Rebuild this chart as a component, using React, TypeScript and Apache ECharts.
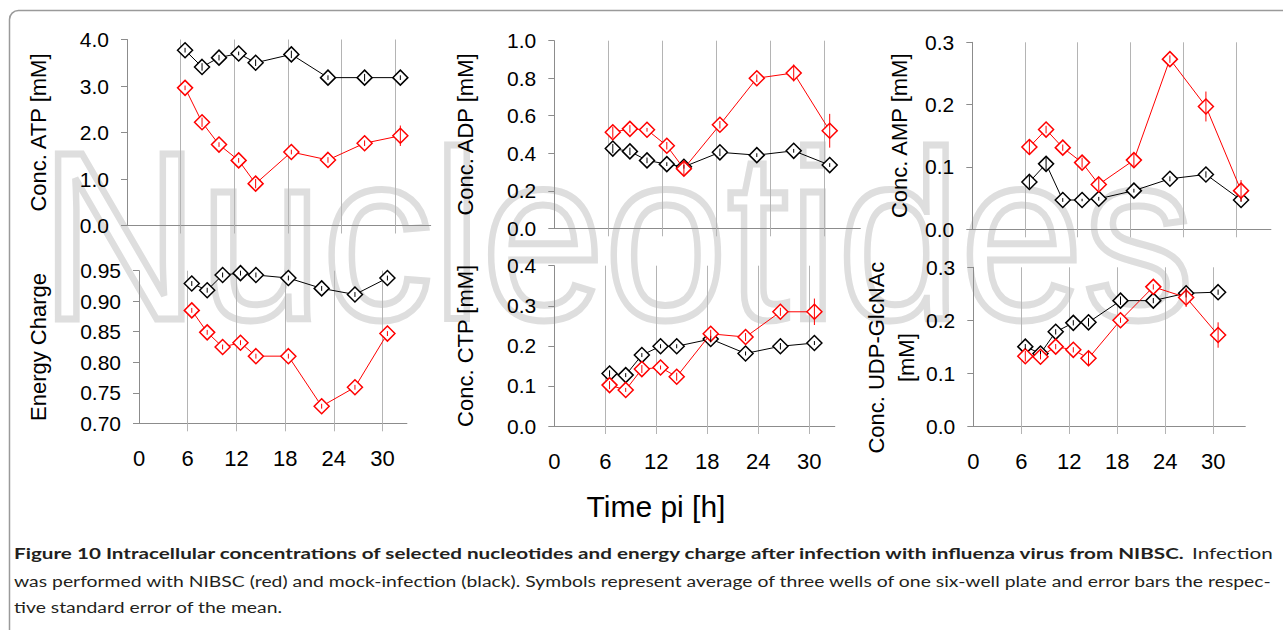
import React, { useEffect, useRef } from "react";
import * as echarts from "echarts";

// ---- data (hours post infection) ----
const hours = [6.5, 8.4, 10.3, 12.5, 14.4, 18.4, 22.5, 26.6, 30.6];

const atpMock = [3.77, 3.41, 3.61, 3.7, 3.5, 3.68, 3.18, 3.18, 3.18];
const atpNibsc = [2.96, 2.22, 1.74, 1.4, 0.9, 1.58, 1.41, 1.77, 1.93];
const atpMockErr = [0.05, 0.08, 0.06, 0.04, 0.07, 0.08, 0.05, 0.08, 0.05];
const atpNibscErr = [0.05, 0.1, 0.05, 0.05, 0.1, 0.05, 0.06, 0.06, 0.22];

const adpMock = [0.425, 0.41, 0.362, 0.342, 0.328, 0.405, 0.39, 0.413, 0.337];
const adpNibsc = [0.512, 0.53, 0.525, 0.44, 0.318, 0.552, 0.8, 0.828, 0.52];
const adpMockErr = [0.025, 0.02, 0.015, 0.01, 0.01, 0.02, 0.01, 0.01, 0.01];
const adpNibscErr = [0.03, 0.02, 0.01, 0.02, 0.035, 0.02, 0.02, 0.045, 0.09];

const ampMock = [0.076, 0.105, 0.047, 0.047, 0.049, 0.062, 0.081, 0.088, 0.047];
const ampNibsc = [0.132, 0.16, 0.131, 0.107, 0.072, 0.111, 0.273, 0.197, 0.062];
const ampMockErr = [0.01, 0.01, 0.003, 0.002, 0.003, 0.003, 0.004, 0.005, 0.003];
const ampNibscErr = [0.012, 0.006, 0.005, 0.008, 0.01, 0.01, 0.006, 0.024, 0.017];

const ecMock = [0.929, 0.918, 0.943, 0.946, 0.943, 0.938, 0.921, 0.911, 0.938];
const ecNibsc = [0.885, 0.849, 0.825, 0.832, 0.81, 0.81, 0.728, 0.759, 0.847];
const ecMockErr = [0.004, 0.004, 0.004, 0.004, 0.004, 0.004, 0.004, 0.004, 0.004];
const ecNibscErr = [0.004, 0.004, 0.004, 0.004, 0.004, 0.004, 0.004, 0.004, 0.004];

const ctpMock = [0.131, 0.127, 0.177, 0.199, 0.199, 0.217, 0.181, 0.199, 0.207];
const ctpNibsc = [0.102, 0.09, 0.142, 0.146, 0.123, 0.23, 0.222, 0.285, 0.285];
const ctpMockErr = [0.008, 0.005, 0.005, 0.005, 0.005, 0.008, 0.005, 0.008, 0.005];
const ctpNibscErr = [0.01, 0.005, 0.01, 0.005, 0.01, 0.01, 0.01, 0.01, 0.033];

const udpMock = [0.15, 0.137, 0.178, 0.195, 0.196, 0.237, 0.237, 0.251, 0.253];
const udpNibsc = [0.132, 0.131, 0.15, 0.144, 0.128, 0.2, 0.263, 0.243, 0.172];
const udpMockErr = [0.005, 0.005, 0.005, 0.005, 0.008, 0.008, 0.005, 0.008, 0.005];
const udpNibscErr = [0.01, 0.005, 0.005, 0.005, 0.015, 0.005, 0.005, 0.018, 0.024];

const panelNames = [
  "Conc. ATP [mM]",
  "Conc. ADP [mM]",
  "Conc. AMP [mM]",
  "Energy Charge",
  "Conc. CTP [mM]",
  "Conc. UDP-GlcNAc\n[mM]",
];
const xTickValues = [6, 12, 18, 24, 30];
const xLabelValues = [0, 6, 12, 18, 24, 30];
const xAxisTitle = "Time pi [h]";
const watermark = "Nucleotides";
const captionBold =
  "Figure 10 Intracellular concentrations of selected nucleotides and energy charge after infection with influenza virus from NIBSC.";
const captionRest1 = " Infection";
const captionLine2 =
  "was performed with NIBSC (red) and mock-infection (black). Symbols represent average of three wells of one six-well plate and error bars the respec-";
const captionLine3 = "tive standard error of the mean.";

const panelData = [
  { mock: atpMock, nibsc: atpNibsc, mockErr: atpMockErr, nibscErr: atpNibscErr, yMin: 0, yMax: 4, yStep: 1, dec: 1 },
  { mock: adpMock, nibsc: adpNibsc, mockErr: adpMockErr, nibscErr: adpNibscErr, yMin: 0, yMax: 1, yStep: 0.2, dec: 1 },
  { mock: ampMock, nibsc: ampNibsc, mockErr: ampMockErr, nibscErr: ampNibscErr, yMin: 0, yMax: 0.3, yStep: 0.1, dec: 1 },
  { mock: ecMock, nibsc: ecNibsc, mockErr: ecMockErr, nibscErr: ecNibscErr, yMin: 0.7, yMax: 0.95, yStep: 0.05, dec: 2 },
  { mock: ctpMock, nibsc: ctpNibsc, mockErr: ctpMockErr, nibscErr: ctpNibscErr, yMin: 0, yMax: 0.4, yStep: 0.1, dec: 1 },
  { mock: udpMock, nibsc: udpNibsc, mockErr: udpMockErr, nibscErr: udpNibscErr, yMin: 0, yMax: 0.3, yStep: 0.1, dec: 1 },
];

// ---- layout (pixels) ----
const layout = [
  { left: 127, top: 39.5, width: 303.7, height: 186, xMax: 34, nameGap: 74, labels: false, pad: [0, 0, 0, 0] },
  { left: 554.3, top: 40.7, width: 306, height: 187.6, xMax: 34, nameGap: 74, labels: false, pad: [0, 0, 0, 0] },
  { left: 972.3, top: 42.3, width: 298.6, height: 187, xMax: 34, nameGap: 58, labels: false, pad: [0, 0, 0, 0] },
  { left: 139, top: 270.7, width: 267.9, height: 152.6, xMax: 33, nameGap: 85.5, labels: true, pad: [0, 0, 0, 0] },
  { left: 554.3, top: 265.7, width: 280.5, height: 160.3, xMax: 33, nameGap: 74, labels: true, pad: [0, 0, 0, 0] },
  { left: 973.3, top: 267.3, width: 272, height: 158.7, xMax: 34, nameGap: 51.6, labels: true, pad: [0, 22, 0, 0] },
];

const RED = "#ff0000";
const BLACK = "#000000";
const AXIS = "#8c8c8c";
const GRID = "#b4b4b4";
const FONT = "Liberation Sans";

function measure(text: string, font: string) {
  const ctx = document.createElement("canvas").getContext("2d");
  if (!ctx) return text.length * 8;
  ctx.font = font;
  return ctx.measureText(text).width;
}

export default function App() {
  const ref = useRef<HTMLDivElement>(null);

  useEffect(() => {
    if (!ref.current) return;
    const chart = echarts.init(ref.current, null, { renderer: "svg", width: 1283, height: 630 });

    const grids: any[] = [];
    const xAxes: any[] = [];
    const yAxes: any[] = [];
    const series: any[] = [];

    panelData.forEach((p, i) => {
      const L = layout[i];
      grids.push({ left: L.left, top: L.top, width: L.width, height: L.height, containLabel: false });
      xAxes.push({
        type: "value",
        gridIndex: i,
        min: 0,
        max: L.xMax,
        interval: 6,
        axisLine: { show: true, onZero: false, lineStyle: { color: AXIS, width: 1 } },
        axisTick: { show: true, customValues: xTickValues, length: 8, lineStyle: { color: GRID, width: 1 } },
        axisLabel: L.labels
          ? { show: true, customValues: xLabelValues, margin: 24, color: "#000", fontSize: 22, fontFamily: FONT }
          : { show: false },
        splitLine: { show: false },
      });
      yAxes.push({
        type: "value",
        gridIndex: i,
        min: p.yMin,
        max: p.yMax,
        interval: p.yStep,
        name: panelNames[i],
        nameLocation: "middle",
        nameGap: L.nameGap,
        nameTextStyle: { fontSize: 22, color: "#000", fontFamily: FONT, lineHeight: 30, padding: L.pad },
        axisLine: { show: true, lineStyle: { color: AXIS, width: 1 } },
        axisTick: { show: true, length: 6, lineStyle: { color: AXIS, width: 1 } },
        axisLabel: {
          formatter: (v: number) => v.toFixed(p.dec),
          fontSize: 21,
          color: "#000",
          fontFamily: FONT,
          margin: 18,
        },
        splitLine: { show: false },
      });

      const groups = [
        { vals: p.mock, err: p.mockErr, color: BLACK, z: 10, grid: true },
        { vals: p.nibsc, err: p.nibscErr, color: RED, z: 11, grid: false },
      ];
      groups.forEach((g) => {
        const s: any = {
          type: "line",
          xAxisIndex: i,
          yAxisIndex: i,
          z: g.z,
          data: hours.map((h, k) => [h, g.vals[k]]),
          symbol: "diamond",
          symbolSize: 15,
          showSymbol: true,
          lineStyle: { color: g.color, width: 1 },
          itemStyle: { color: "#ffffff", borderColor: g.color, borderWidth: 1.5 },
          silent: true,
        };
        if (g.grid) {
          s.markLine = {
            silent: true,
            z: 1,
            symbol: "none",
            label: { show: false },
            lineStyle: { color: GRID, type: "solid", width: 1 },
            emphasis: { disabled: true },
            data: xTickValues.map((v) => ({ xAxis: v })),
          };
        }
        series.push(s);
        series.push({
          type: "custom",
          xAxisIndex: i,
          yAxisIndex: i,
          z: g.z + 5,
          silent: true,
          data: hours.map((h, k) => [h, g.vals[k], g.err[k]]),
          encode: { x: 0, y: 1 },
          renderItem: (params: any, api: any) => {
            const x = api.value(0);
            const y = api.value(1);
            const e = api.value(2);
            const a = api.coord([x, y + e]);
            const b = api.coord([x, y - e]);
            return {
              type: "line",
              shape: { x1: a[0], y1: a[1], x2: b[0], y2: b[1] },
              style: { stroke: g.color, lineWidth: 1 },
            };
          },
        });
      });
    });

    // caption fitting
    const capFont = "16px Lato";
    const capBold = "bold 16px Lato";
    const target = 1259;
    const w1 = measure(captionBold, capBold) + measure(captionRest1, capFont);
    const w2 = measure(captionLine2, capFont);
    const s1 = target / w1;
    const s2 = target / w2;
    const s3 = Math.min(s1, s2);

    const capStyle = { fontFamily: "Lato", fontSize: 16, fill: "#231f20", verticalAlign: "middle", align: "left" };

    const graphic: any[] = [
      {
        type: "rect",
        z: -20,
        silent: true,
        shape: { x: 9.5, y: 10.5, width: 1300, height: 640, r: 9 },
        style: { fill: "#ffffff", stroke: "#9a9a9a", lineWidth: 1.5 },
      },
      {
        type: "text",
        z: -10,
        silent: true,
        x: 40,
        y: 236,
        scaleX: 0.92,
        style: {
          text: watermark,
          fontFamily: FONT,
          fontSize: 240,
          fill: "none",
          stroke: "#dedede",
          lineWidth: 7,
          verticalAlign: "middle",
          align: "left",
        },
      },
      {
        type: "text",
        silent: true,
        x: 656,
        y: 506,
        style: { text: xAxisTitle, fontFamily: FONT, fontSize: 30, fill: "#000", align: "center", verticalAlign: "middle" },
      },
      {
        type: "text",
        silent: true,
        x: 14,
        y: 553,
        scaleX: s1,
        style: {
          ...capStyle,
          text: "{b|" + captionBold + "}" + captionRest1,
          rich: { b: { fontFamily: "Lato", fontSize: 16, fontWeight: "bold", fill: "#231f20" } },
        },
      },
      { type: "text", silent: true, x: 14, y: 581, scaleX: s2, style: { ...capStyle, text: captionLine2 } },
      { type: "text", silent: true, x: 14, y: 607, scaleX: s3, style: { ...capStyle, text: captionLine3 } },
    ];

    chart.setOption({
      animation: false,
      backgroundColor: "#ffffff",
      textStyle: { fontFamily: FONT },
      grid: grids,
      xAxis: xAxes,
      yAxis: yAxes,
      series,
      graphic,
    });

    return () => chart.dispose();
  }, []);

  return (
    <div
      ref={ref}
      style={{ position: "absolute", left: 0, top: 0, width: 1283, height: 630, background: "#fff" }}
    />
  );
}
